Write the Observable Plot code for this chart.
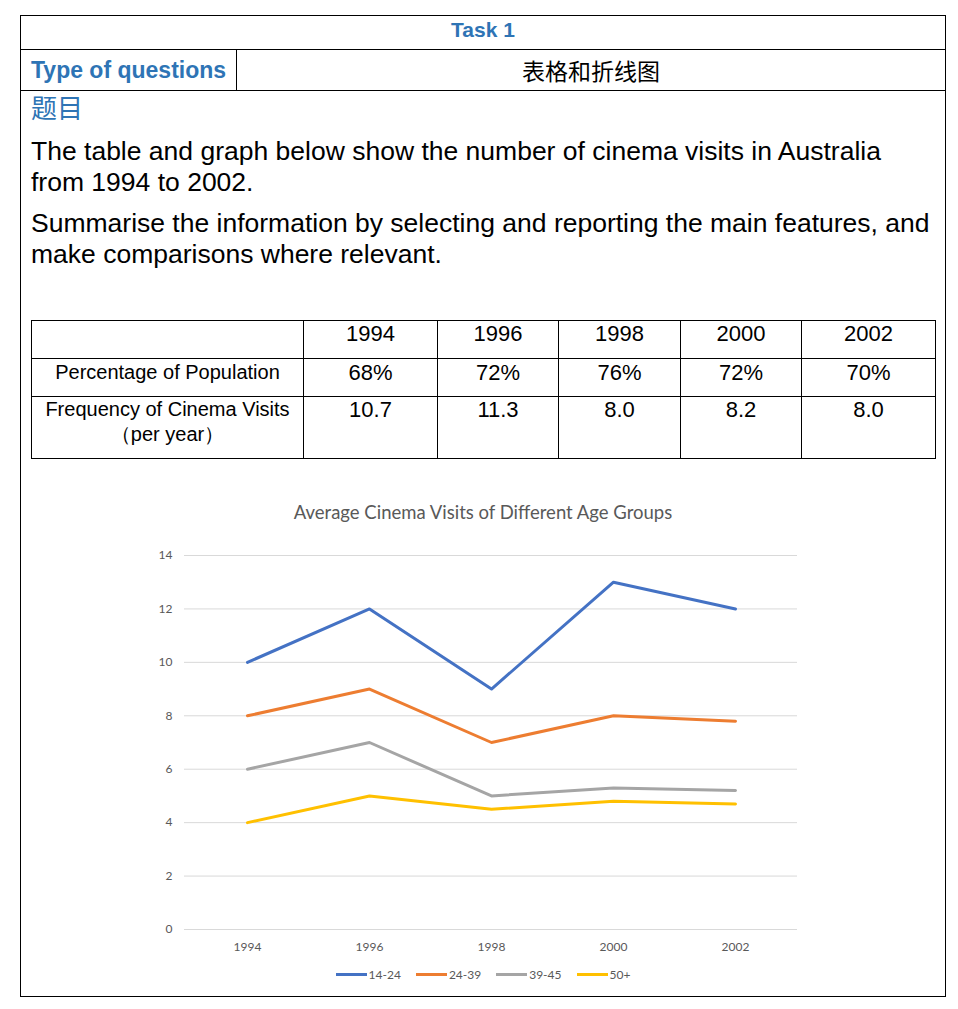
<!DOCTYPE html>
<html>
<head>
<meta charset="utf-8">
<script src="https://cdn.jsdelivr.net/npm/d3@7"></script>
<script src="https://cdn.jsdelivr.net/npm/@observablehq/plot@0.6"></script>
<style>
  html, body { margin: 0; padding: 0; background: #fff; }
  body { width: 958px; height: 1009px; position: relative; overflow: hidden; font-family: "Liberation Sans", Arial, sans-serif; color: #000; }
  .abs { position: absolute; }
  .hline { position: absolute; height: 1px; background: #000; }
  .vline { position: absolute; width: 1px; background: #000; }
  .blue { color: #2E74B5; }
  table.data { position: absolute; left: 31px; top: 320px; border-collapse: collapse; table-layout: fixed; }
  table.data td { border: 1px solid #000; text-align: center; vertical-align: top; padding: 0; }
  td.lab { font-size: 20px; line-height: 25px; }
  td.num { font-size: 22px; line-height: 25px; }
  .legend { position: absolute; top: 967px; left: 0; width: 966px; display: flex; justify-content: center; gap: 15px; font-family: Lato, sans-serif; font-size: 12px; color: #595959; }
  .legend span.item { display: flex; align-items: center; }
  .legend span.sw { display: inline-block; width: 31px; height: 3px; margin-right: 2px; }
</style>
</head>
<body>
<div id="root"></div>
<script>
// ---- data ----
const years = ["1994", "1996", "1998", "2000", "2002"];
const groups = ["14-24", "24-39", "39-45", "50+"];
const visits1424 = [10, 12, 9, 13, 12];
const visits2439 = [8, 9, 7, 8, 7.8];
const visits3945 = [6, 7, 5, 5.3, 5.2];
const visits50 = [4, 5, 4.5, 4.8, 4.7];
const groupColors = ["#4472C4", "#ED7D31", "#A5A5A5", "#FFC000"];
const yTicks = [0, 2, 4, 6, 8, 10, 12, 14];
const pctPopulation = ["68%", "72%", "76%", "72%", "70%"];
const freqVisits = ["10.7", "11.3", "8.0", "8.2", "8.0"];

const root = document.getElementById("root");
function el(tag, cls, style, text) {
  const e = document.createElement(tag);
  if (cls) e.className = cls;
  if (style) e.setAttribute("style", style);
  if (text != null) e.textContent = text;
  root.appendChild(e);
  return e;
}

// ---- outer frame ----
el("div", "hline", "left:20px;top:15px;width:926px;");
el("div", "hline", "left:20px;top:49px;width:926px;");
el("div", "hline", "left:20px;top:90px;width:926px;");
el("div", "hline", "left:20px;top:996px;width:926px;");
el("div", "vline", "left:20px;top:15px;height:982px;");
el("div", "vline", "left:945px;top:15px;height:982px;");
el("div", "vline", "left:236px;top:49px;height:41px;");

el("div", "abs blue", "left:20px;top:16px;width:926px;text-align:center;font-weight:bold;font-size:21px;line-height:28px;", "Task 1");
el("div", "abs blue", "left:31px;top:56px;font-weight:bold;font-size:23px;line-height:28px;white-space:nowrap;", "Type of questions");
el("div", "abs", "left:237px;top:56px;width:708px;text-align:center;font-family:'Noto Sans CJK SC';font-size:23px;line-height:28px;", "表格和折线图");

el("div", "abs blue", "left:31px;top:91px;font-family:'Noto Sans CJK SC';font-size:26px;line-height:32px;", "题目");
const q1 = el("div", "abs", "left:31px;top:136px;font-size:26.5px;line-height:31px;white-space:nowrap;");
q1.innerHTML = "The table and graph below show the number of cinema visits in Australia<br>from 1994 to 2002.";
const q2 = el("div", "abs", "left:31px;top:208px;font-size:26.5px;line-height:31px;white-space:nowrap;");
q2.innerHTML = "Summarise the information by selecting and reporting the main features, and<br>make comparisons where relevant.";

// ---- table ----
const colW = [272, 134, 121, 122, 121, 134];
const tbl = el("table", "data");
const cg = document.createElement("colgroup");
colW.forEach(w => { const c = document.createElement("col"); c.style.width = w + "px"; cg.appendChild(c); });
tbl.appendChild(cg);
function addRow(h, label, vals, labPad, numPad) {
  const tr = document.createElement("tr");
  tr.style.height = h + "px";
  const td0 = document.createElement("td");
  td0.className = "lab";
  td0.style.paddingTop = labPad + "px";
  td0.innerHTML = label;
  tr.appendChild(td0);
  vals.forEach(v => {
    const td = document.createElement("td");
    td.className = "num";
    td.style.paddingTop = numPad + "px";
    td.textContent = v;
    tr.appendChild(td);
  });
  tbl.appendChild(tr);
}
addRow(38, "", years, 0, 0);
addRow(38, "Percentage of Population", pctPopulation, 1, 1);
addRow(62, "Frequency of Cinema Visits<br>（per year）", freqVisits, 0, 0);

// ---- chart ----
el("div", "abs", "left:20px;top:500px;width:926px;text-align:center;font-family:Lato,sans-serif;font-size:18.5px;line-height:24px;color:#595959;", "Average Cinema Visits of Different Age Groups");

const series = [visits1424, visits2439, visits3945, visits50];
const data = groups.flatMap((g, i) => years.map((yr, j) => ({ year: yr, group: g, value: series[i][j] })));

const chart = Plot.plot({
  width: 926,
  height: 430,
  marginLeft: 164,
  marginRight: 149,
  marginTop: 25,
  marginBottom: 31,
  x: { type: "point", domain: years, padding: 0.5, label: null },
  y: { domain: [0, 14], label: null },
  color: { domain: groups, range: groupColors },
  style: { fontFamily: "Lato, sans-serif", fontSize: "12px", color: "#595959", background: "transparent", overflow: "visible" },
  marks: [
    Plot.gridY(yTicks, { stroke: "#d9d9d9", strokeOpacity: 1 }),
    Plot.axisY(yTicks, { tickSize: 0, tickPadding: 12, label: null }),
    Plot.axisX({ tickSize: 0, tickPadding: 13, label: null }),
    Plot.lineY(data, { x: "year", y: "value", stroke: "group", strokeWidth: 3, strokeLinejoin: "round" })
  ]
});
chart.style.position = "absolute";
chart.style.left = "20px";
chart.style.top = "530px";
root.appendChild(chart);

// ---- legend ----
const lg = el("div", "legend");
groups.forEach((g, i) => {
  const it = document.createElement("span");
  it.className = "item";
  const sw = document.createElement("span");
  sw.className = "sw";
  sw.style.background = groupColors[i];
  it.appendChild(sw);
  const t = document.createElement("span");
  t.textContent = g;
  it.appendChild(t);
  lg.appendChild(it);
});
</script>
</body>
</html>
